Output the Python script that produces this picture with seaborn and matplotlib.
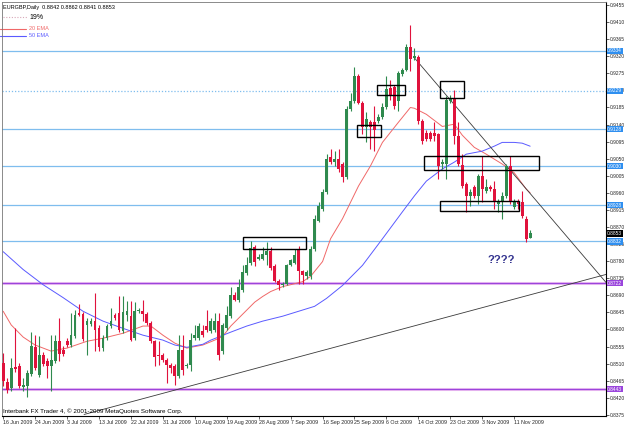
import seaborn as sns
import matplotlib.pyplot as plt
from matplotlib.patches import Rectangle
import pandas as pd

# EURGBP daily bars, bar 0 = 16 Jun 2009
opens = [0.8512, 0.8462, 0.8446, 0.8501, 0.8504, 0.8448, 0.8451, 0.8483, 0.8553, 0.8481,
         0.8533, 0.8517, 0.8504, 0.8517, 0.8569, 0.8546, 0.8569, 0.8559, 0.8582, 0.8643,
         0.8640, 0.8612, 0.8614, 0.8622, 0.8603, 0.8551, 0.8577, 0.8609, 0.8638, 0.8643,
         0.8595, 0.8638, 0.8635, 0.8577, 0.8648, 0.8648, 0.8640, 0.8617, 0.8569, 0.8533,
         0.8533, 0.8520, 0.8507, 0.8504, 0.8478, 0.8546, 0.8504, 0.8507, 0.8577, 0.8577,
         0.8595, 0.8609, 0.8595, 0.8598, 0.8622, 0.8543, 0.8603, 0.8635, 0.8690, 0.8677,
         0.8703, 0.8748, 0.8774, 0.8818, 0.8787, 0.8787, 0.8795, 0.8808, 0.8766, 0.8729,
         0.8716, 0.8721, 0.8769, 0.8774, 0.8813, 0.8753, 0.8740, 0.8740, 0.8813, 0.8887,
         0.8918, 0.8962, 0.9054, 0.9041, 0.9049, 0.9036, 0.9002, 0.9180, 0.9201, 0.9267,
         0.9198, 0.9133, 0.9146, 0.9146, 0.9149, 0.9159, 0.9185, 0.9237, 0.9240, 0.9201,
         0.9272, 0.9285, 0.9345, 0.9316, 0.9319, 0.9149, 0.9119, 0.9117, 0.9117, 0.9114,
         0.9036, 0.9036, 0.9201, 0.9209, 0.9109, 0.9033, 0.8983, 0.8952, 0.8975, 0.8952,
         0.9004, 0.8965, 0.8975, 0.8970, 0.8931, 0.8936, 0.8952, 0.9031, 0.8923, 0.8936,
         0.8936, 0.8892, 0.8842]
highs = [0.8538, 0.8472, 0.8525, 0.8603, 0.8512, 0.8472, 0.8494, 0.8593, 0.8585, 0.8582,
         0.8541, 0.8525, 0.8585, 0.8585, 0.8630, 0.8556, 0.8577, 0.8643, 0.8651, 0.8666,
         0.8646, 0.8630, 0.8630, 0.8695, 0.8612, 0.8585, 0.8614, 0.8656, 0.8643, 0.8687,
         0.8687, 0.8674, 0.8674, 0.8672, 0.8656, 0.8677, 0.8646, 0.8622, 0.8572, 0.8569,
         0.8538, 0.8525, 0.8512, 0.8509, 0.8585, 0.8585, 0.8512, 0.8590, 0.8612, 0.8617,
         0.8612, 0.8651, 0.8630, 0.8643, 0.8643, 0.8617, 0.8661, 0.8713, 0.8700, 0.8734,
         0.8769, 0.8792, 0.8834, 0.8823, 0.8800, 0.8818, 0.8831, 0.8818, 0.8772, 0.8734,
         0.8726, 0.8772, 0.8787, 0.8813, 0.8821, 0.8758, 0.8756, 0.8821, 0.8902, 0.8936,
         0.8970, 0.9062, 0.9075, 0.9070, 0.9075, 0.9041, 0.9188, 0.9224, 0.9293, 0.9272,
         0.9203, 0.9172, 0.9151, 0.9188, 0.9167, 0.9198, 0.9267, 0.9258, 0.9245, 0.9280,
         0.9290, 0.9353, 0.9403, 0.9342, 0.9324, 0.9154, 0.9127, 0.9122, 0.9146, 0.9119,
         0.9049, 0.9214, 0.9219, 0.9232, 0.9146, 0.9062, 0.8988, 0.8970, 0.8981, 0.9010,
         0.9057, 0.8996, 0.8981, 0.8991, 0.8944, 0.8962, 0.9036, 0.9057, 0.8944, 0.8944,
         0.8965, 0.8900, 0.8862]
lows = [0.8451, 0.8433, 0.8438, 0.8489, 0.8446, 0.8438, 0.8422, 0.8478, 0.8494, 0.8475,
        0.8504, 0.8472, 0.8438, 0.8512, 0.8517, 0.8530, 0.8553, 0.8553, 0.8577, 0.8635,
        0.8569, 0.8533, 0.8609, 0.8543, 0.8543, 0.8543, 0.8572, 0.8603, 0.8625, 0.8593,
        0.8590, 0.8622, 0.8569, 0.8572, 0.8643, 0.8622, 0.8612, 0.8564, 0.8504, 0.8507,
        0.8515, 0.8459, 0.8486, 0.8454, 0.8472, 0.8481, 0.8499, 0.8491, 0.8572, 0.8572,
        0.8580, 0.8593, 0.8590, 0.8593, 0.8520, 0.8535, 0.8598, 0.8630, 0.8674, 0.8672,
        0.8698, 0.8743, 0.8769, 0.8766, 0.8782, 0.8782, 0.8769, 0.8756, 0.8724, 0.8703,
        0.8711, 0.8716, 0.8766, 0.8772, 0.8721, 0.8721, 0.8734, 0.8734, 0.8808, 0.8882,
        0.8913, 0.8957, 0.9036, 0.9031, 0.9015, 0.8988, 0.8996, 0.9175, 0.9196, 0.9193,
        0.9114, 0.9093, 0.9075, 0.9070, 0.9144, 0.9154, 0.9180, 0.9206, 0.9180, 0.9175,
        0.9267, 0.9280, 0.9280, 0.9311, 0.9141, 0.9088, 0.9096, 0.9096, 0.9096, 0.8996,
        0.9023, 0.8996, 0.9196, 0.9088, 0.9031, 0.8973, 0.8910, 0.8926, 0.8947, 0.8931,
        0.8936, 0.8960, 0.8965, 0.8918, 0.8910, 0.8892, 0.8947, 0.8931, 0.8918, 0.8918,
        0.8894, 0.8831, 0.8841]
closes = [0.8464, 0.8441, 0.8499, 0.8496, 0.8451, 0.8454, 0.8486, 0.8556, 0.8499, 0.8533,
          0.8509, 0.8504, 0.8520, 0.8569, 0.8535, 0.8535, 0.8559, 0.8585, 0.8638, 0.8638,
          0.8574, 0.8622, 0.8622, 0.8598, 0.8553, 0.8577, 0.8609, 0.8622, 0.8630, 0.8598,
          0.8646, 0.8648, 0.8572, 0.8648, 0.8651, 0.8640, 0.8617, 0.8569, 0.8527, 0.8530,
          0.8520, 0.8507, 0.8499, 0.8478, 0.8546, 0.8494, 0.8507, 0.8572, 0.8585, 0.8609,
          0.8585, 0.8598, 0.8622, 0.8622, 0.8533, 0.8612, 0.8638, 0.8690, 0.8677, 0.8713,
          0.8751, 0.8769, 0.8816, 0.8779, 0.8792, 0.8800, 0.8808, 0.8761, 0.8729, 0.8718,
          0.8721, 0.8769, 0.8782, 0.8795, 0.8753, 0.8743, 0.8751, 0.8813, 0.8892, 0.8926,
          0.8962, 0.9049, 0.9041, 0.9049, 0.9023, 0.9002, 0.9180, 0.9201, 0.9267, 0.9198,
          0.9133, 0.9154, 0.9133, 0.9127, 0.9159, 0.9185, 0.9234, 0.9214, 0.9188, 0.9277,
          0.9285, 0.9345, 0.9313, 0.9321, 0.9149, 0.9096, 0.9101, 0.9101, 0.9109, 0.9031,
          0.9041, 0.9206, 0.9209, 0.9109, 0.9036, 0.8978, 0.8952, 0.8962, 0.8952, 0.9004,
          0.8970, 0.8975, 0.8970, 0.8936, 0.8936, 0.8952, 0.9031, 0.8936, 0.8936, 0.8931,
          0.8900, 0.8839, 0.8853]

# moving averages read at a few bars
ema20_bars = [0, 2, 5, 8, 12, 16, 21, 25, 30, 35, 37, 40, 43, 46, 50, 53, 55, 57, 59, 61,
              63, 65, 67, 70, 72, 75, 77, 80, 82, 85, 89, 92, 95, 99, 102, 103, 106, 110, 113,
              115, 118, 121, 125, 128, 131, 132]
ema20_vals = [0.8648, 0.8612, 0.8580, 0.8559, 0.8543, 0.8551, 0.8569, 0.8577, 0.8590, 0.8609,
              0.8609, 0.8585, 0.8564, 0.8551, 0.8559, 0.8572, 0.8582, 0.8609, 0.8630, 0.8651,
              0.8672, 0.8687, 0.8700, 0.8713, 0.8718, 0.8726, 0.8740, 0.8779, 0.8839, 0.8892,
              0.8978, 0.9031, 0.9093, 0.9146, 0.9185, 0.9183, 0.9167, 0.9135, 0.9141, 0.9112,
              0.9080, 0.9062, 0.9036, 0.9013, 0.8970, 0.8960]
ema50_bars = [0, 5, 10, 15, 20, 25, 30, 35, 40, 43, 46, 50, 52, 57, 61, 65, 70, 74, 78, 81,
              85, 90, 95, 100, 103, 106, 110, 113, 116, 120, 123, 125, 128, 130, 132]
ema50_vals = [0.8805, 0.8758, 0.8718, 0.8684, 0.8648, 0.8622, 0.8603, 0.8585, 0.8572, 0.8559,
              0.8553, 0.8561, 0.8572, 0.8593, 0.8609, 0.8622, 0.8635, 0.8648, 0.8661, 0.8682,
              0.8716, 0.8769, 0.8839, 0.8910, 0.8952, 0.8991, 0.9023, 0.9041, 0.9062, 0.9070,
              0.9083, 0.9093, 0.9093, 0.9091, 0.9083]

blue_levels = [0.9334, 0.9128, 0.9030, 0.8928, 0.8832]
dotted_level = 0.9229
purple_levels = [0.8722, 0.8443]
last_price = 0.8853

# rectangles: bar from, bar to, price low, price high
boxes = [(60.1, 75.9, 0.8811, 0.8844), (93.7, 100.6, 0.9219, 0.9244),
         (88.7, 94.7, 0.9108, 0.9139), (109.3, 115.4, 0.9209, 0.9254),
         (105.5, 134.2, 0.9021, 0.9056), (109.3, 129.2, 0.8913, 0.8938)]
# trend lines: (bar, price) -> (bar, price)
trend_lines = [((102.75, 0.9319), (151, 0.8724)), ((20.25, 0.8376), (151, 0.8745))]

y_ticks = [0.9455, 0.9410, 0.9365, 0.9320, 0.9275, 0.9230, 0.9185, 0.9140, 0.9095, 0.9050,
           0.9005, 0.8960, 0.8915, 0.8870, 0.8825, 0.8780, 0.8735, 0.8690, 0.8645, 0.8600,
           0.8555, 0.8510, 0.8465, 0.8420, 0.8375]
date_labels = ["16 Jun 2009", "24 Jun 2009", "3 Jul 2009", "13 Jul 2009", "22 Jul 2009",
               "31 Jul 2009", "10 Aug 2009", "19 Aug 2009", "28 Aug 2009", "7 Sep 2009",
               "16 Sep 2009", "25 Sep 2009", "6 Oct 2009", "14 Oct 2009", "23 Oct 2009",
               "3 Nov 2009", "11 Nov 2009"]

df = pd.DataFrame({"open": opens, "high": highs, "low": lows, "close": closes})
df["bar"] = range(len(df))
df["up"] = df["close"] >= df["open"]

sns.set_style("white")
plt.rcParams["font.family"] = ["Liberation Sans", "DejaVu Sans"]
FS = 3.8   # date labels
YFS = 3.5  # price scale

fig = plt.figure(figsize=(6.25, 4.28), dpi=100)
ax = fig.add_axes([2 / 625, 12 / 428, 604 / 625, 414 / 428])
ax.set_xlim(-0.3, 151)
ax.set_ylim(0.8372, 0.9463)

GREEN = "#2f8a4e"
RED = "#e0123c"
LBLUE = "#7fbdee"
PURPLE = "#9a45dc"

# price levels
for p in blue_levels:
    ax.axhline(p, color=LBLUE, lw=0.9, zorder=1)
ax.axhline(dotted_level, color=LBLUE, lw=0.9, ls=(0, (1, 1.5)), zorder=1)
for p in purple_levels:
    ax.axhline(p, color="#e8b8f0", lw=2.2, zorder=1)
    ax.axhline(p, color=PURPLE, lw=0.8, zorder=1)

# moving averages
sns.lineplot(x=ema20_bars, y=ema20_vals, ax=ax, color="#f06868", lw=0.7, zorder=2)
sns.lineplot(x=ema50_bars, y=ema50_vals, ax=ax, color="#5a5aff", lw=0.7, zorder=2)

for (x0, y0), (x1, y1) in trend_lines:
    ax.plot([x0, x1], [y0, y1], color="#3a3a3a", lw=0.6, zorder=2)

# candles
colors = df["up"].map({True: GREEN, False: RED})
ax.vlines(df["bar"], df["low"], df["high"], colors=colors, lw=0.8, zorder=3)
body_lo = df[["open", "close"]].min(axis=1)
body_h = (df["close"] - df["open"]).abs().clip(lower=0.00012)
ax.bar(df["bar"], body_h, bottom=body_lo, width=0.72, color=colors, lw=0, zorder=4)

for x0, x1, lo, hi in boxes:
    ax.add_patch(Rectangle((x0, lo), x1 - x0, hi - lo, fill=False, ec="black", lw=1.0, zorder=5))

ax.text(121.3, 0.8782, "????", color="#33338f", fontsize=8, fontweight="bold",
        va="center", ha="left", zorder=6)

# axes and ticks
ax.yaxis.tick_right()
ax.set_yticks(y_ticks)
ax.set_yticklabels([f"{v:.4f}" for v in y_ticks])
ax.set_xticks(range(0, 8 * len(date_labels), 8))
ax.set_xticklabels(date_labels)
plt.setp(ax.get_xticklabels(), ha="left")
ax.tick_params(axis="y", direction="out", length=2, width=0.5, labelsize=YFS, pad=0.8,
               right=True, left=False)
ax.tick_params(axis="x", direction="out", length=2, width=0.5, labelsize=FS, pad=1,
               bottom=True)
ax.set_xlabel("")
ax.set_ylabel("")
for side in ["bottom", "right"]:
    ax.spines[side].set_color("black")
    ax.spines[side].set_linewidth(0.8)
for side in ["top", "left"]:
    ax.spines[side].set_color("#777777")
    ax.spines[side].set_linewidth(0.6)

# price labels on the right scale
ytr = ax.get_yaxis_transform()
tags = [(p, "#2f8ff0") for p in blue_levels + [dotted_level]]
tags += [(p, PURPLE) for p in purple_levels] + [(last_price, "black")]
for p, fc in tags:
    ax.text(1.002, p, f"{p:.4f}", transform=ytr, fontsize=YFS, color="white", va="center",
            ha="left", clip_on=False, zorder=7,
            bbox=dict(boxstyle="square,pad=0.12", fc=fc, ec="none"))

# header, object list and footer
ax.text(0.002, 0.993, "EURGBP,Daily  0.8842 0.8862 0.8841 0.8853", transform=ax.transAxes,
        fontsize=4.0, va="top", ha="left", color="black")
ax.plot([0.001, 0.042], [0.963, 0.963], transform=ax.transAxes, color="#d8a8b8", lw=0.8,
        ls=(0, (1, 1.5)))
ax.text(0.045, 0.963, "19%", transform=ax.transAxes, fontsize=5, va="center", color="black")
ax.plot([-0.003, 0.040], [0.935, 0.935], transform=ax.transAxes, color="#f06868", lw=0.8,
        clip_on=False)
ax.text(0.045, 0.935, "20 EMA", transform=ax.transAxes, fontsize=4.0, va="center",
        color="#f06868")
ax.plot([-0.003, 0.040], [0.918, 0.918], transform=ax.transAxes, color="#5a5aff", lw=0.8,
        clip_on=False)
ax.text(0.045, 0.918, "50 EMA", transform=ax.transAxes, fontsize=4.0, va="center",
        color="#5a5aff")
ax.text(0.002, 0.012, "Interbank FX Trader 4, \u00a9 2001-2009 MetaQuotes Software Corp.",
        transform=ax.transAxes, fontsize=4.5, va="center", ha="left", color="black")

fig.savefig("out.png", dpi=100)
